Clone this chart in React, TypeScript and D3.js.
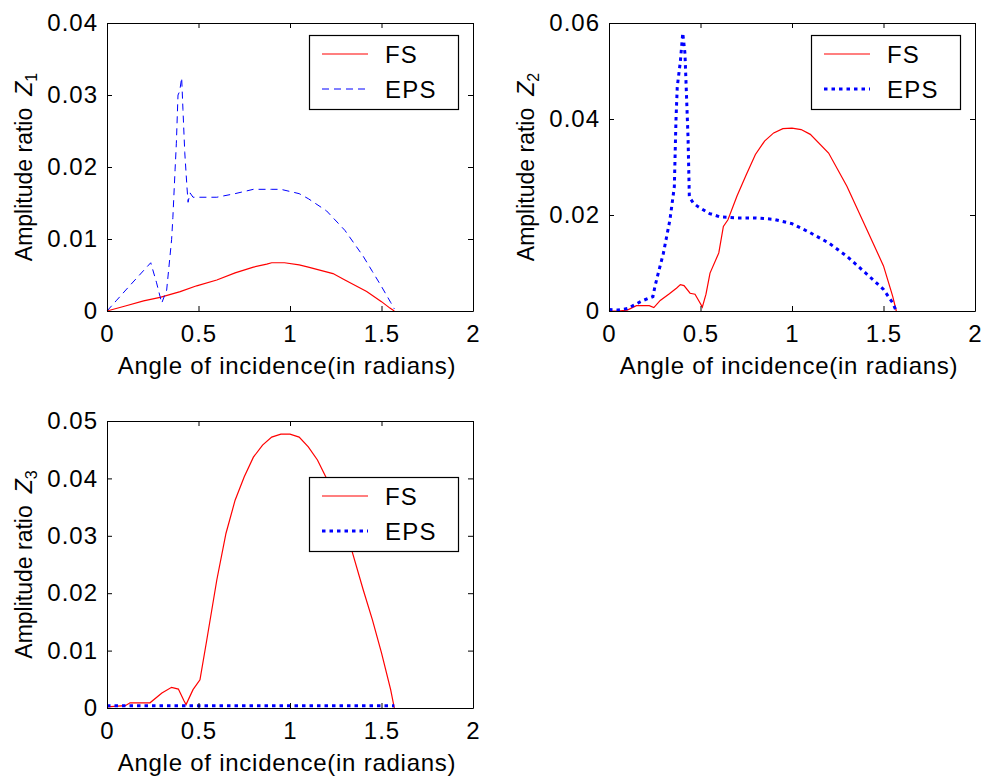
import React, { useEffect, useRef } from 'react'
import * as d3 from 'd3'

type Pt = [number, number]

// [angle (rad), amplitude ratio]
const z1Fs: Pt[] = [[0, 0], [0.1, 0.0007], [0.2, 0.0014], [0.29, 0.0019], [0.4, 0.0027], [0.49, 0.0035], [0.6, 0.0043], [0.7, 0.0053], [0.8, 0.0061], [0.873, 0.0065], [0.9, 0.0067], [0.97, 0.0067], [1.05, 0.0064], [1.1, 0.0061], [1.235, 0.0052], [1.3, 0.0043], [1.419, 0.0027], [1.5, 0.0013], [1.546, 0.0004], [1.57, 0]]
const z1Eps: Pt[] = [[0, 0], [0.053, 0.0015], [0.12, 0.0034], [0.239, 0.0067], [0.27, 0.004], [0.299, 0.0011], [0.326, 0.0029], [0.353, 0.0099], [0.36, 0.013], [0.372, 0.0196], [0.379, 0.0233], [0.388, 0.03], [0.397, 0.0305], [0.408, 0.0324], [0.415, 0.028], [0.425, 0.022], [0.437, 0.0172], [0.443, 0.0151], [0.454, 0.0164], [0.47, 0.0158], [0.5, 0.0158], [0.6, 0.0158], [0.7, 0.0163], [0.8, 0.0169], [0.9, 0.0169], [0.95, 0.0169], [1.0, 0.0166], [1.05, 0.0163], [1.1, 0.0156], [1.2, 0.0139], [1.3, 0.0112], [1.4, 0.0076], [1.45, 0.0055], [1.5, 0.0034], [1.55, 0.0012], [1.57, 0.0003]]

const z2Fs: Pt[] = [[0, 0], [0.05, 0], [0.1, 0.0002], [0.15, 0.0011], [0.22, 0.0011], [0.245, 0.0007], [0.28, 0.0022], [0.33, 0.0036], [0.37, 0.0048], [0.39, 0.0055], [0.41, 0.0053], [0.443, 0.0037], [0.47, 0.0035], [0.5, 0.0015], [0.51, 0.0008], [0.53, 0.0035], [0.552, 0.0079], [0.6, 0.0121], [0.625, 0.0176], [0.65, 0.019], [0.7, 0.024], [0.75, 0.0284], [0.8, 0.0326], [0.85, 0.0354], [0.9, 0.0371], [0.95, 0.038], [1.0, 0.0381], [1.05, 0.0378], [1.1, 0.0368], [1.2, 0.0329], [1.3, 0.026], [1.4, 0.0177], [1.5, 0.0094], [1.55, 0.0031], [1.57, 0]]
const z2Eps: Pt[] = [[0, 0.0003], [0.05, 0.0002], [0.1, 0.0005], [0.18, 0.0021], [0.24, 0.003], [0.251, 0.0051], [0.27, 0.008], [0.297, 0.012], [0.333, 0.019], [0.357, 0.0259], [0.366, 0.0398], [0.373, 0.0467], [0.39, 0.052], [0.403, 0.0579], [0.415, 0.0537], [0.425, 0.0433], [0.432, 0.036], [0.439, 0.0238], [0.46, 0.0225], [0.488, 0.0217], [0.55, 0.0203], [0.607, 0.0196], [0.7, 0.0194], [0.8, 0.0194], [0.9, 0.0191], [1.0, 0.0182], [1.1, 0.0163], [1.2, 0.0142], [1.3, 0.0114], [1.4, 0.008], [1.5, 0.0045], [1.55, 0.0017], [1.57, 0]]

const z3Fs: Pt[] = [[0, 0.0002], [0.1, 0.0004], [0.126, 0.0009], [0.235, 0.0009], [0.3, 0.0026], [0.353, 0.0036], [0.39, 0.0033], [0.42, 0.0013], [0.432, 0.0006], [0.47, 0.0032], [0.508, 0.0049], [0.545, 0.0118], [0.6, 0.0223], [0.65, 0.0304], [0.7, 0.0362], [0.75, 0.0403], [0.8, 0.0437], [0.85, 0.0458], [0.9, 0.0472], [0.95, 0.0477], [1.0, 0.0477], [1.05, 0.0472], [1.1, 0.0455], [1.15, 0.0432], [1.2, 0.04], [1.25, 0.0362], [1.3, 0.032], [1.34, 0.0272], [1.4, 0.0206], [1.45, 0.0154], [1.5, 0.0096], [1.55, 0.0032], [1.57, 0]]
const z3Eps: Pt[] = [[0, 0.0004], [0.5, 0.0004], [1.0, 0.0004], [1.57, 0.0004]]

const xTicks = [0, 0.5, 1, 1.5, 2]
const z1Ticks = [0, 0.01, 0.02, 0.03, 0.04]
const z2Ticks = [0, 0.02, 0.04, 0.06]
const z3Ticks = [0, 0.01, 0.02, 0.03, 0.04, 0.05]
const legendNames = ['FS', 'EPS']
const xTitle = 'Angle of incidence(in radians)'
const yTitle = 'Amplitude ratio'

const font = '"Liberation Sans", Arial, sans-serif'

const panels = [
  { sub: '1', fs: z1Fs, eps: z1Eps, yTicks: z1Ticks, left: 107, top: 23, width: 366, height: 288, legendTop: 12, epsWidth: 1, epsDash: '7,5' },
  { sub: '2', fs: z2Fs, eps: z2Eps, yTicks: z2Ticks, left: 609, top: 23, width: 366, height: 288, legendTop: 12, epsWidth: 3, epsDash: '3.5,4' },
  { sub: '3', fs: z3Fs, eps: z3Eps, yTicks: z3Ticks, left: 107, top: 421, width: 366, height: 287, legendTop: 56, epsWidth: 3, epsDash: '3.5,4' }
]

function styleAxis(sel) {
  sel.attr('font-size', 24).attr('font-family', font).attr('letter-spacing', 1)
  sel.selectAll('path, line').attr('stroke', '#000').attr('stroke-width', 1)
  return sel
}

function drawPanel(svg, p) {
  const g = svg.append('g').attr('transform', `translate(${p.left},${p.top})`)
  const x = d3.scaleLinear().domain([0, 2]).range([0, p.width])
  const y = d3.scaleLinear().domain([0, d3.max(p.yTicks)]).range([p.height, 0])
  const fmt = d => String(d)

  const line = d3.line<Pt>()
    .x(d => x(d[0]))
    .y(d => y(d[1]))

  g.append('path').datum(p.fs)
    .attr('d', line)
    .attr('fill', 'none')
    .attr('stroke', '#ff0000')
    .attr('stroke-width', 1.2)

  g.append('path').datum(p.eps)
    .attr('d', line)
    .attr('fill', 'none')
    .attr('stroke', '#0000ff')
    .attr('stroke-width', p.epsWidth)
    .attr('stroke-dasharray', p.epsDash)

  // box with inward ticks on all four sides
  styleAxis(g.append('g').attr('transform', `translate(0,${p.height})`)
    .call(d3.axisBottom(x).tickValues(xTicks).tickFormat(fmt).tickSize(-5).tickSizeOuter(0).tickPadding(14)))
  styleAxis(g.append('g')
    .call(d3.axisTop(x).tickValues(xTicks).tickFormat(() => '').tickSize(-5).tickSizeOuter(0)))
  styleAxis(g.append('g')
    .call(d3.axisLeft(y).tickValues(p.yTicks).tickFormat(fmt).tickSize(-5).tickSizeOuter(0).tickPadding(9)))
  styleAxis(g.append('g').attr('transform', `translate(${p.width},0)`)
    .call(d3.axisRight(y).tickValues(p.yTicks).tickFormat(() => '').tickSize(-5).tickSizeOuter(0)))

  g.append('text')
    .attr('x', p.width / 2 - 3)
    .attr('y', p.height + 63)
    .attr('text-anchor', 'middle')
    .attr('font-family', font)
    .attr('font-size', 24)
    .attr('letter-spacing', 0.75)
    .text(xTitle)

  const yl = g.append('text')
    .attr('transform', `translate(-75,${p.height / 2}) rotate(-90)`)
    .attr('text-anchor', 'middle')
    .attr('font-family', font)
    .attr('font-size', 23)
  yl.append('tspan').text(yTitle)
  yl.append('tspan').attr('dx', 12).attr('font-style', 'italic').attr('font-size', 23).text('Z')
  yl.append('tspan').attr('dy', 5).attr('font-size', 16).text(p.sub)

  // legend
  const lg = g.append('g').attr('transform', `translate(202,${p.legendTop})`)
  lg.append('rect')
    .attr('x', 0.5).attr('y', 0.5)
    .attr('width', 149).attr('height', 74)
    .attr('fill', '#fff')
    .attr('stroke', '#000')
    .attr('stroke-width', 1.2)
  legendNames.forEach((name, i) => {
    const ry = 19 + i * 35
    const isFs = i === 0
    lg.append('line')
      .attr('x1', 13).attr('x2', 59)
      .attr('y1', ry).attr('y2', ry)
      .attr('stroke', isFs ? '#ff0000' : '#0000ff')
      .attr('stroke-width', isFs ? 1.2 : p.epsWidth)
      .attr('stroke-dasharray', isFs ? null : p.epsDash)
    lg.append('text')
      .attr('x', 76)
      .attr('y', ry + 9)
      .attr('font-family', font)
      .attr('font-size', 24)
      .attr('letter-spacing', 1.2)
      .text(name)
  })
}

export default function App() {
  const ref = useRef(null)

  useEffect(() => {
    const svg = d3.select(ref.current)
    svg.selectAll('*').remove()
    panels.forEach(p => drawPanel(svg, p))
  }, [])

  return (
    <div style={{ position: 'absolute', left: 0, top: 0 }}>
      <svg ref={ref} width={986} height={783} style={{ display: 'block', background: '#fff' }} />
    </div>
  )
}
